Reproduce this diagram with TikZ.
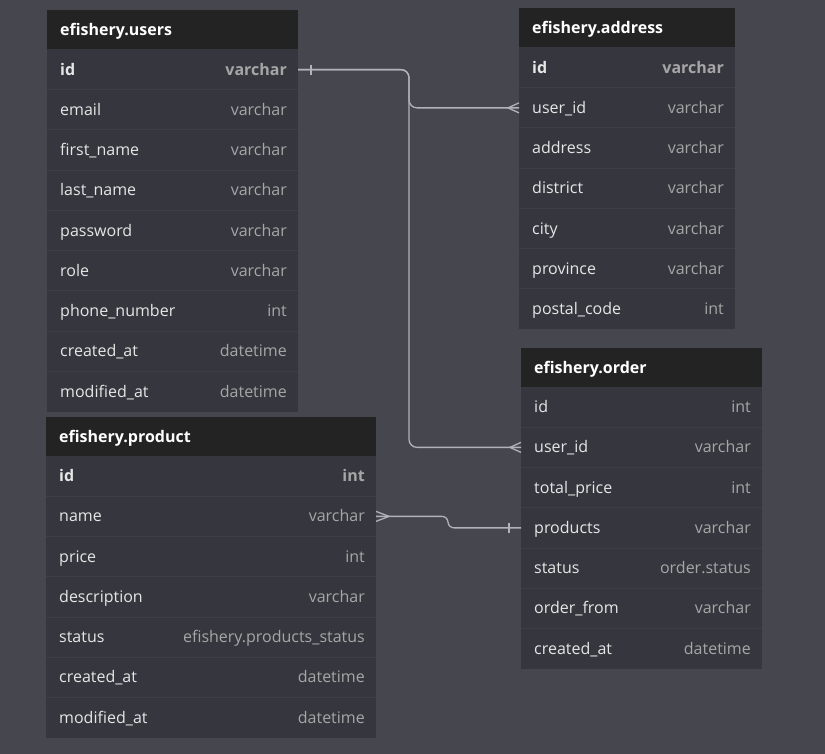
\documentclass[tikz,border=0pt]{standalone}
\usepackage{fontspec}
\setmainfont{Open Sans}
\usetikzlibrary{calc}
\definecolor{bgc}{HTML}{46464F}
\definecolor{hdrc}{HTML}{232323}
\definecolor{bodyc}{HTML}{36363E}
\definecolor{sepc}{HTML}{3E3E47}
\definecolor{fldc}{HTML}{E6E6E6}
\definecolor{typc}{HTML}{A6A6A6}
\definecolor{conc}{HTML}{B2B2BA}
\tikzset{
  hdr/.style={fill=hdrc, minimum height=39, inner sep=0pt, outer sep=0pt},
  rowbox/.style={fill=bodyc, minimum height=40.25, inner sep=0pt, outer sep=0pt},
  hdrtext/.style={text=white, inner sep=0pt, font=\fontsize{16}{19}\selectfont\bfseries},
  fld/.style={text=fldc, inner sep=0pt, font=\fontsize{16}{19}\selectfont},
  typ/.style={text=typc, inner sep=0pt, font=\fontsize{16}{19}\selectfont},
  sepline/.style={draw=sepc, line width=1pt},
  conn/.style={draw=conc, line width=1.3pt},
}
\newcommand\erdtab[6]{%
  \node[hdr, minimum width=#4, anchor=north west] (#1-h) at (#2,#3) {};
  \node[hdrtext, anchor=base west] (#1-t) at ([xshift=13pt,yshift=-5.5pt]#1-h.west) {#5};
  \foreach \f/\t [count=\i] in {#6} {
    \pgfmathsetmacro\yy{#3+39+(\i-1)*40.25}
    \node[rowbox, minimum width=#4, anchor=north west] (#1-\i) at (#2,\yy) {};
    \ifnum\i>1 \draw[sepline] (#1-\i.north west) -- (#1-\i.north east);\fi
    \node[fld, anchor=base west] at ([xshift=13pt,yshift=-5.5pt]#1-\i.west) {\f};
    \node[typ, anchor=base east] at ([xshift=-11pt,yshift=-5.5pt]#1-\i.east) {\t};
  }
}
\begin{document}
\begin{tikzpicture}[x=1pt,y=-1pt]
\fill[bgc] (0,0) rectangle (825,754);
\useasboundingbox (0,0) rectangle (825,754);

\erdtab{users}{47}{10.5}{251}{efishery.users}{{\textbf{id}}/{\textbf{varchar}},email/varchar,first\_name/varchar,last\_name/varchar,password/varchar,role/varchar,phone\_number/int,created\_at/datetime,modified\_at/datetime}

\erdtab{address}{519}{8.5}{216}{efishery.address}{{\textbf{id}}/{\textbf{varchar}},user\_id/varchar,address/varchar,district/varchar,city/varchar,province/varchar,postal\_code/int}

\erdtab{order}{521}{348}{241}{efishery.order}{id/int,user\_id/varchar,total\_price/int,products/varchar,status/order.status,order\_from/varchar,created\_at/datetime}

\erdtab{product}{46}{417}{330}{efishery.product}{{\textbf{id}}/{\textbf{int}},name/varchar,price/int,description/varchar,status/efishery.products\_status,created\_at/datetime,modified\_at/datetime}

% users.id -> address.user_id
\draw[conn, rounded corners=8pt] (users-1.east) -- ++(111,0) |- (address-2.west);
% users.id -> order.user_id
\draw[conn, rounded corners=8pt] (users-1.east) -- ++(111,0) |- (order-2.west);
% product.name -> order.products
\draw[conn, rounded corners=6pt] (product-2.east) -- ++(72,0) |- (order-4.west);

% one-ends (ticks)
\draw[conn] ([xshift=13pt,yshift=5pt]users-1.east) -- ([xshift=13pt,yshift=-5pt]users-1.east);
\draw[conn] ([xshift=-12pt,yshift=5pt]order-4.west) -- ([xshift=-12pt,yshift=-5pt]order-4.west);

% many-ends (crow feet)
\draw[conn] ([yshift=5pt]address-2.west) -- ([xshift=-11pt]address-2.west) -- ([yshift=-5pt]address-2.west);
\draw[conn] ([yshift=5pt]order-2.west) -- ([xshift=-11pt]order-2.west) -- ([yshift=-5pt]order-2.west);
\draw[conn] ([yshift=5pt]product-2.east) -- ([xshift=13pt]product-2.east) -- ([yshift=-5pt]product-2.east);
\end{tikzpicture}
\end{document}
